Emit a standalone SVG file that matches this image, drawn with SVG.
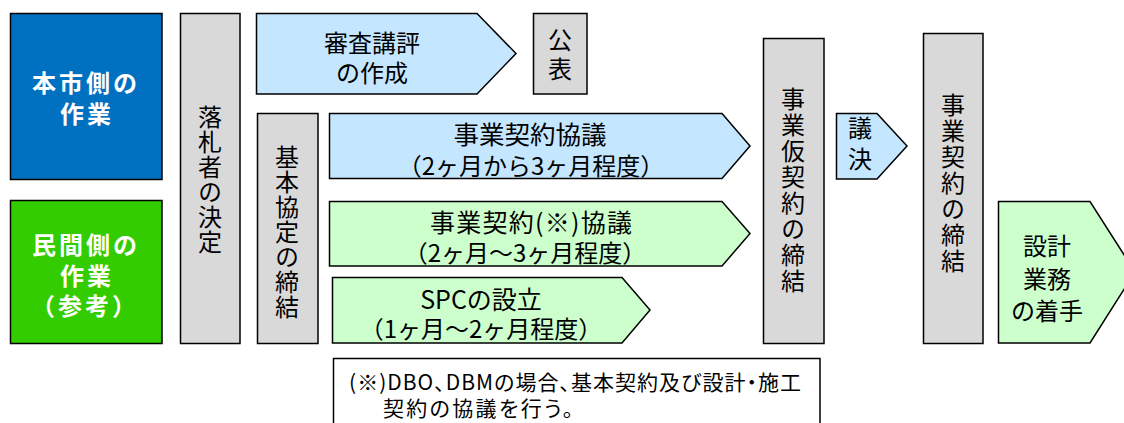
<svg xmlns="http://www.w3.org/2000/svg" width="1124" height="423" viewBox="0 0 1124 423">
<style>
text{font-family:"Noto Sans CJK JP","Noto Sans",sans-serif;fill:#000;font-size:24px;dominant-baseline:central}
.s{stroke:#000;stroke-width:1.5}
.gray{fill:#D9D9D9}
.lb{fill:#C5E6FF}
.lg{fill:#CCFFCC}
.w{fill:#fff;font-weight:bold;letter-spacing:3px}
.m{text-anchor:middle}
.v{writing-mode:vertical-rl;letter-spacing:1px}
.a{font-size:25px}
</style>
<rect width="1124" height="423" fill="#fff"/>
<g id="connectors"></g>
<g id="city">
<rect class="s" x="10.5" y="13.5" width="151.5" height="166" fill="#0070C0"/>
<text class="w m"><tspan x="86" y="81">本市側の</tspan><tspan x="87" y="112">作業</tspan></text>
</g>
<g id="private">
<rect class="s" x="10.5" y="200.5" width="151.5" height="143" fill="#33CC00"/>
<text class="w m"><tspan x="86" y="243">民間側の</tspan><tspan x="87" y="274">作業</tspan><tspan x="85" y="304">（参考）</tspan></text>
</g>
<g id="bidder">
<rect class="s gray" x="180.5" y="13.5" width="59.5" height="330"/>
<text class="v" x="210" y="105">落札者の決定</text>
</g>
<g id="review">
<path class="s lb" d="M256.5 13.5H477L516 53.5L477 94H256.5Z"/>
<text class="m"><tspan x="372" y="41">審査講評</tspan><tspan x="372" y="71">の作成</tspan></text>
</g>
<g id="announce">
<rect class="s gray" x="533.5" y="13.5" width="53.5" height="80.5"/>
<text class="v" x="560" y="28" style="letter-spacing:5px">公表</text>
</g>
<g id="basic">
<rect class="s gray" x="257.5" y="113.5" width="60.5" height="230"/>
<text class="v" x="287" y="145">基本協定の締結</text>
</g>
<g id="city-negotiation">
<path class="s lb" d="M329.5 113.5H722L750 146L722 178.5H329.5Z"/>
<text class="m"><tspan x="530" y="132" style="font-size:25.5px">事業契約協議</tspan><tspan x="531" y="164">（2ヶ月から3ヶ月程度）</tspan></text>
</g>
<g id="private-negotiation">
<path class="s lg" d="M329.5 201.5H722L750 233.5L722 266H329.5Z"/>
<text class="m"><tspan class="a" x="531" y="221" textLength="202" lengthAdjust="spacing">事業契約(※)協議</tspan><tspan x="525" y="251">（2ヶ月～3ヶ月程度）</tspan></text>
</g>
<g id="spc">
<path class="s lg" d="M332.5 277.5H622L650 310L622 343H332.5Z"/>
<text class="m"><tspan class="a" x="481" y="298">SPCの設立</tspan><tspan x="481" y="327">（1ヶ月～2ヶ月程度）</tspan></text>
</g>
<g id="provisional">
<rect class="s gray" x="763.5" y="38.5" width="60.5" height="305"/>
<text class="v" x="793" y="87" style="letter-spacing:2px">事業仮契約の締結</text>
</g>
<g id="resolution">
<path class="s lb" d="M836.5 113.5H877L907 146L877 179H836.5Z"/>
<text class="v" x="860" y="116" style="letter-spacing:7px">議決</text>
</g>
<g id="contract">
<rect class="s gray" x="923.5" y="33.5" width="59.5" height="310"/>
<text class="v" x="953" y="93" style="letter-spacing:2px">事業契約の締結</text>
</g>
<g id="design">
<path class="s lg" d="M998.5 201.5H1090L1135 272L1090 343H998.5Z"/>
<text class="m"><tspan x="1047" y="244">設計</tspan><tspan x="1047" y="277">業務</tspan><tspan x="1047" y="309">の着手</tspan></text>
</g>
<g id="note">
<path class="s" fill="#fff" d="M333.5 430V358.5H820V430"/>
<text style="font-size:21px;font-feature-settings:'palt'"><tspan x="349" y="381" textLength="452" lengthAdjust="spacing">(※)DBO、DBMの場合、基本契約及び設計・施工</tspan><tspan x="383" y="407" textLength="190" lengthAdjust="spacing">契約の協議を行う。</tspan></text>
</g>
</svg>
